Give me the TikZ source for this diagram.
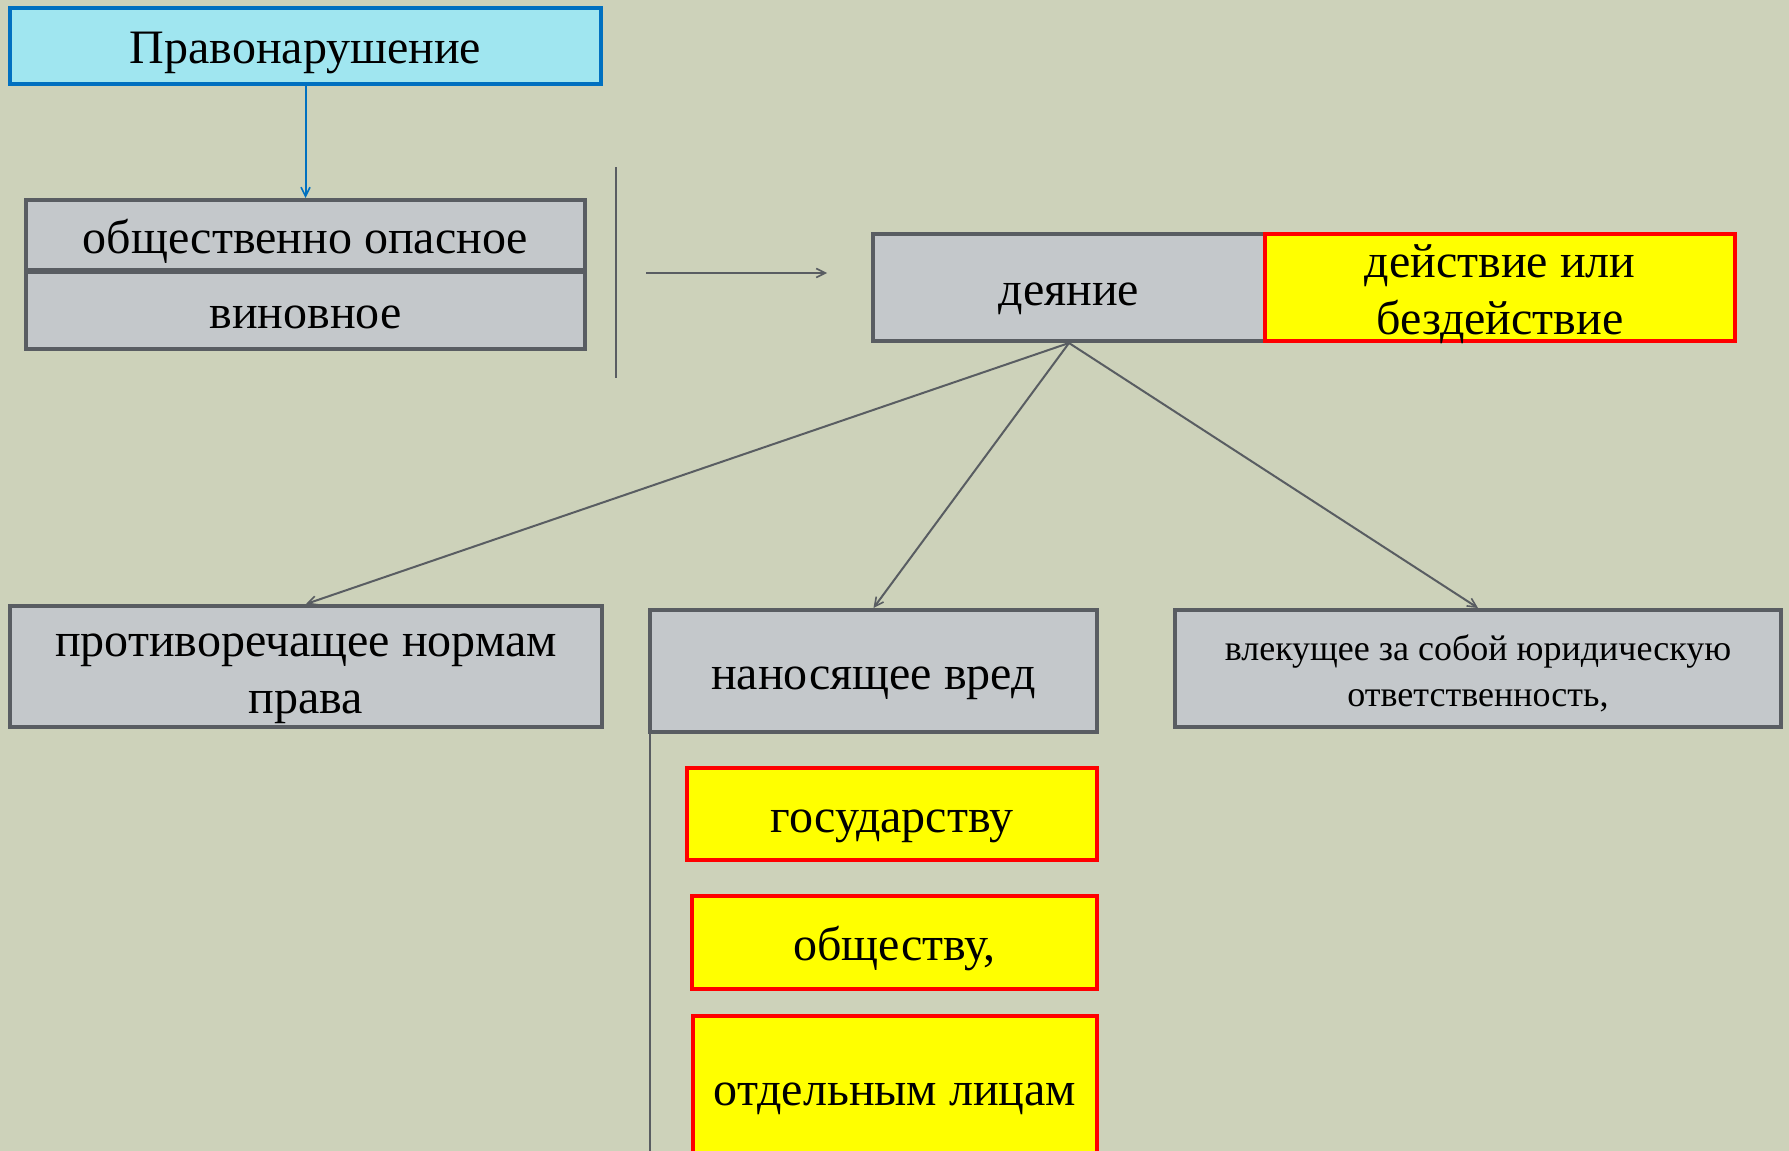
\documentclass[tikz,border=0pt]{standalone}
\usepackage{fontspec}
\setmainfont{Liberation Serif}
\usetikzlibrary{arrows.meta}
\definecolor{bgc}{RGB}{205,210,186}
\definecolor{grayfill}{RGB}{196,200,203}
\definecolor{grayline}{RGB}{89,93,98}
\definecolor{cyanfill}{RGB}{160,230,240}
\definecolor{blueline}{RGB}{0,112,192}
\definecolor{yel}{RGB}{255,255,0}
\definecolor{redline}{RGB}{255,0,0}
\tikzset{
  box/.style={rectangle, inner sep=0pt, line width=4pt},
  graybox/.style={box, fill=grayfill, draw=grayline},
  yellowbox/.style={box, fill=yel, draw=redline},
  titlebox/.style={box, fill=cyanfill, draw=blueline},
  big/.style={font=\fontsize{48}{57}\selectfont, align=center, inner sep=0pt},
  small/.style={font=\fontsize{36}{46}\selectfont, align=center, inner sep=0pt},
  conn/.style={draw=grayline, line width=2pt, -{Straight Barb[length=9pt,width=9pt,line width=1.6pt]}},
  plainline/.style={draw=grayline, line width=2pt},
}
\begin{document}
\begin{tikzpicture}[x=1pt,y=-1pt]
\fill[bgc] (0,0) rectangle (1789,1151);
\useasboundingbox (0,0) rectangle (1789,1151);
\begin{scope}
\clip (0,0) rectangle (1789,1151);
\node[titlebox, minimum width=591pt, minimum height=76pt,
  label={[big, yshift=-7pt]center:Правонарушение}] (P) at (305.5,46) {};
\node[graybox, minimum width=559pt, minimum height=70pt,
  label={[big, yshift=-6pt]center:общественно опасное}] (O1) at (305.5,235) {};
\node[graybox, minimum width=559pt, minimum height=77pt,
  label={[big, yshift=-7pt]center:виновное}] (O2) at (305.5,310.5) {};
\node[graybox, minimum width=392pt, minimum height=107pt,
  label={[big, yshift=-11pt]center:деяние}] (D) at (1069,287.5) {};
\node[yellowbox, minimum width=470pt, minimum height=107pt,
  label={[big, yshift=-7pt]center:действие или\\бездействие}] (Y) at (1500,287.5) {};
\node[graybox, minimum width=592pt, minimum height=121pt,
  label={[big, yshift=-12pt]center:противоречащее нормам\\права}] (L) at (306,666.5) {};
\node[graybox, minimum width=447pt, minimum height=122pt,
  label={[big, yshift=-12pt]center:наносящее вред}] (M) at (873.5,671) {};
\node[graybox, minimum width=606pt, minimum height=117pt,
  label={[small, yshift=-5pt]center:влекущее за собой юридическую\\ответственность,}] (R) at (1478,668.5) {};
\node[yellowbox, minimum width=410pt, minimum height=92pt,
  label={[big, yshift=-12pt]center:государству}] (G1) at (892,814) {};
\node[yellowbox, minimum width=405pt, minimum height=93pt,
  label={[big, yshift=-6pt]center:обществу,}] (G2) at (894.5,942.5) {};
\node[yellowbox, minimum width=404pt, minimum height=154pt,
  label={[big, yshift=-6pt]center:отдельным лицам}] (G3) at (895,1093) {};

\draw[draw=blueline, line width=2pt, -{Straight Barb[length=9pt,width=9pt,line width=1.6pt]}] (P.south) -- (O1.north);

\coordinate (vTop) at (616,167);
\coordinate (vBot) at (616,378);
\draw[plainline] (vTop) -- (vBot);
\coordinate (hA) at (646,273);
\coordinate (hB) at (827,273);
\draw[conn] (hA) -- (hB);

\draw[conn] (D.south) -- (L.north);
\draw[conn] (D.south) -- (M.north);
\draw[conn] (D.south) -- (R.north);

\coordinate (mEnd) at (650,1165);
\draw[plainline] (mEnd |- M.south) -- (mEnd);
\end{scope}
\end{tikzpicture}
\end{document}
